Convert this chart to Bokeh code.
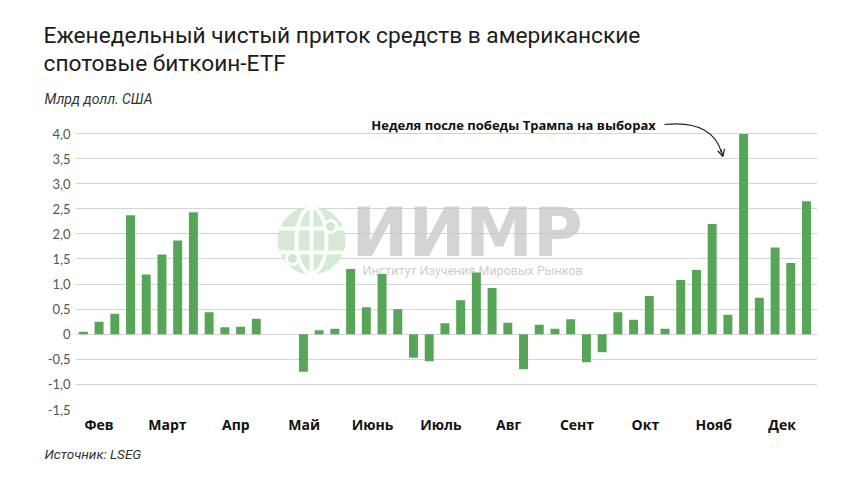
from bokeh.plotting import figure
from bokeh.models import (Label, FixedTicker, Range1d, Arrow, OpenHead, ColumnDataSource, Title)
from bokeh.embed import file_html
from bokeh.resources import INLINE
from bokeh.core.properties import value

# ---------------- data ----------------
weeks = list(range(47))
flows = [0.05, 0.25, 0.41, 2.37, 1.19, 1.59, 1.87, 2.43, 0.44, 0.14, 0.15, 0.31,
         0.0, 0.0, -0.75, 0.08, 0.11, 1.30, 0.54, 1.20, 0.50, -0.47, -0.54, 0.22,
         0.68, 1.23, 0.92, 0.23, -0.70, 0.19, 0.11, 0.30, -0.56, -0.36, 0.44, 0.29,
         0.76, 0.11, 1.08, 1.28, 2.20, 0.39, 3.99, 0.73, 1.73, 1.42, 2.65]
month_labels = ["Фев", "Март", "Апр", "Май", "Июнь", "Июль", "Авг", "Сент", "Окт", "Нояб", "Дек"]
month_pos = [1.0, 5.35, 9.7, 14.05, 18.4, 22.75, 27.05, 31.4, 35.75, 40.1, 44.45]
y_ticks = [-1.5, -1.0, -0.5, 0.0, 0.5, 1.0, 1.5, 2.0, 2.5, 3.0, 3.5, 4.0]
y_tick_labels = ["-1,5", "-1,0", "-0,5", "0", "0,5", "1,0", "1,5", "2,0", "2,5", "3,0", "3,5", "4,0"]

title_lines = ["Еженедельный чистый приток средств в американские", "спотовые биткоин-ETF"]
subtitle = "Млрд долл. США"
source_text = "Источник: LSEG"
note_text = "Неделя после победы Трампа на выборах"

# ---------------- layout ----------------
W, H = 844, 468
X0, X1 = -0.5, 46.7
Y0, Y1 = -1.5, 4.46
FL, FR, FT, FB = 75, 817, 110, 409  # frame edges in px

def X(px):  # px -> data x
    return X0 + (px - FL) / (FR - FL) * (X1 - X0)

def Y(py):  # px -> data y
    return Y1 - (py - FT) / (FB - FT) * (Y1 - Y0)

p = figure(width=W, height=H, output_backend="svg", toolbar_location=None,
           x_range=Range1d(X0, X1), y_range=Range1d(Y0, Y1),
           min_border_left=FL, min_border_right=W - FR,
           min_border_top=FT, min_border_bottom=H - FB)
p.outline_line_color = None
p.background_fill_color = "white"
p.border_fill_color = "white"

# grid
p.xgrid.grid_line_color = None
p.ygrid.ticker = FixedTicker(ticks=y_ticks)
p.ygrid.grid_line_color = "#d4d4d4"
p.ygrid.grid_line_width = 1

# y axis
p.yaxis.ticker = FixedTicker(ticks=y_ticks)
p.yaxis.major_label_overrides = {t: l for t, l in zip(y_ticks, y_tick_labels)}
p.yaxis.axis_line_color = None
p.yaxis.major_tick_line_color = None
p.yaxis.minor_tick_line_color = None
p.yaxis.major_tick_out = 0
p.yaxis.major_tick_in = 0
p.yaxis.minor_tick_out = 0
p.yaxis.major_label_standoff = 5
p.yaxis.major_label_text_font = "Lato"
p.yaxis.major_label_text_font_size = "13px"
p.yaxis.major_label_text_color = "#555555"

# x axis
p.xaxis.ticker = FixedTicker(ticks=month_pos)
p.xaxis.major_label_overrides = {t: l for t, l in zip(month_pos, month_labels)}
p.xaxis.axis_line_color = None
p.xaxis.major_tick_line_color = None
p.xaxis.minor_tick_line_color = None
p.xaxis.major_tick_out = 0
p.xaxis.major_tick_in = 0
p.xaxis.minor_tick_out = 0
p.xaxis.major_label_standoff = 5
p.xaxis.major_label_text_font = "Open Sans"
p.xaxis.major_label_text_font_style = "bold"
p.xaxis.major_label_text_font_size = "14px"
p.xaxis.major_label_text_color = "#111111"

# ---------------- titles (stacked outward from frame) ----------------
p.add_layout(Title(text=subtitle, align="left", offset=-31, text_font="Roboto",
                   text_font_style="italic", text_font_size="14px", text_color="#333333",
                   standoff=8), "above")
p.add_layout(Title(text=title_lines[1], align="left", offset=-32, text_font="Roboto",
                   text_font_style="normal", text_font_size="22.7px", text_color="#1c1c1c",
                   standoff=15), "above")
p.add_layout(Title(text=title_lines[0], align="left", offset=-32, text_font="Roboto",
                   text_font_style="normal", text_font_size="22.7px", text_color="#1c1c1c",
                   standoff=-16), "above")
p.add_layout(Title(text=source_text, align="left", offset=-31, text_font="Roboto",
                   text_font_style="italic", text_font_size="13.5px", text_color="#333333",
                   standoff=14), "below")

# ---------------- watermark ----------------
gx, gy = X(311), Y(240)
p.scatter(x=[gx], y=[gy], size=68, marker="circle", fill_color="#cfe8cf", line_color=None, alpha=0.9)
p.ellipse(x=[gx], y=[gy], width=30, height=66, width_units="screen", height_units="screen",
          fill_color=None, line_color="white", line_width=4, alpha=0.9)
p.segment(x0=[gx], y0=[Y(206)], x1=[gx], y1=[Y(274)], line_color="white", line_width=4, alpha=0.9)
p.segment(x0=[X(279)], y0=[Y(228)], x1=[X(343)], y1=[Y(228)], line_color="white", line_width=4, alpha=0.9)
p.segment(x0=[X(279)], y0=[Y(252)], x1=[X(343)], y1=[Y(252)], line_color="white", line_width=4, alpha=0.9)
p.scatter(x=[X(330), X(292)], y=[Y(226), Y(258)], size=12, marker="circle",
          fill_color="#cfe8cf", line_color="white", line_width=3)
p.text(x=[X(351)], y=[Y(232)], text=["ИИМР"], text_font=value("DejaVu Sans"), text_font_style="bold",
       text_font_size="68px", text_color="#c6c6c6", text_alpha=0.75, text_baseline="middle")
p.text(x=[X(362)], y=[Y(270)], text=["Институт Изучения Мировых Рынков"], text_font=value("Roboto"),
       text_font_size="12.5px", text_color="#c4c4c4", text_alpha=0.85, text_baseline="middle")

# ---------------- bars ----------------
src = ColumnDataSource(data=dict(week=weeks, flow=flows))
p.vbar(x="week", top="flow", bottom=0, width=0.57, source=src,
       fill_color="#57a658", line_color=None)

# ---------------- annotation ----------------
p.add_layout(Label(x=X(513), y=Y(124), text=note_text, text_font="Open Sans", text_font_style="bold",
                   text_font_size="13px", text_color="#111111", text_baseline="middle",
                   text_align="center"))
p.bezier(x0=[X(664)], y0=[Y(124)], x1=[X(721)], y1=[Y(152)],
         cx0=[X(700)], cy0=[Y(120)], cx1=[X(716)], cy1=[Y(134)],
         line_color="#222222", line_width=1.2)
p.add_layout(Arrow(x_start=X(720.5), y_start=Y(149), x_end=X(722.5), y_end=Y(156),
                   line_color="#222222", line_width=1.2,
                   end=OpenHead(size=7, line_color="#222222", line_width=1.2)))

open("out.html", "w").write(file_html(p, INLINE))
